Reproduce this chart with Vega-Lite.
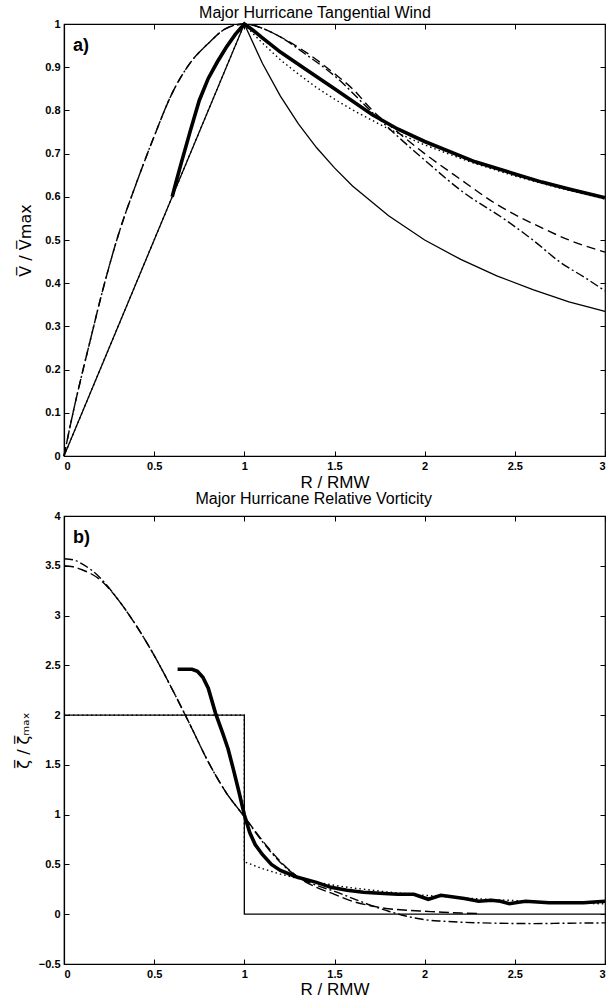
{
  "$schema": "https://vega.github.io/schema/vega-lite/v6.json",
  "background": "white",
  "padding": {"left": 14, "top": 4, "right": 3, "bottom": 0},
  "spacing": -1,
  "config": {
    "view": {"stroke": "black", "strokeWidth": 1.2},
    "font": "Liberation Sans",
    "axis": {"grid": false, "domainColor": "black", "domainWidth": 1.2, "tickColor": "black", "labelColor": "#000000", "titleColor": "#000000", "labelFont": "Liberation Sans", "labelFontWeight": "bold", "labelFontSize": 11, "tickSize": -5, "labelPadding": 9, "titleFont": "Liberation Sans", "titleFontWeight": "normal", "titleFontSize": 17, "minExtent": 0},
    "title": {"font": "Liberation Sans", "fontSize": 16, "fontWeight": "normal", "color": "black", "frame": "bounds"}
  },
  "datasets": {
    "wind": [
      {"s": "thin", "i": 0, "r": 0, "v": 0}, {"s": "thin", "i": 1, "r": 1, "v": 1}, {"s": "thin", "i": 2, "r": 1.1, "v": 0.909}, {"s": "thin", "i": 3, "r": 1.2, "v": 0.833}, {"s": "thin", "i": 4, "r": 1.3, "v": 0.769}, {"s": "thin", "i": 5, "r": 1.4, "v": 0.714}, {"s": "thin", "i": 6, "r": 1.5, "v": 0.667}, {"s": "thin", "i": 7, "r": 1.6, "v": 0.625}, {"s": "thin", "i": 8, "r": 1.8, "v": 0.556}, {"s": "thin", "i": 9, "r": 2.0, "v": 0.5}, {"s": "thin", "i": 10, "r": 2.2, "v": 0.455}, {"s": "thin", "i": 11, "r": 2.4, "v": 0.417}, {"s": "thin", "i": 12, "r": 2.6, "v": 0.385}, {"s": "thin", "i": 13, "r": 2.8, "v": 0.357}, {"s": "thin", "i": 14, "r": 3.0, "v": 0.335},
      {"s": "thick", "i": 0, "r": 0.6, "v": 0.6}, {"s": "thick", "i": 1, "r": 0.62, "v": 0.632}, {"s": "thick", "i": 2, "r": 0.65, "v": 0.678}, {"s": "thick", "i": 3, "r": 0.7, "v": 0.752}, {"s": "thick", "i": 4, "r": 0.75, "v": 0.823}, {"s": "thick", "i": 5, "r": 0.8, "v": 0.874}, {"s": "thick", "i": 6, "r": 0.85, "v": 0.912}, {"s": "thick", "i": 7, "r": 0.9, "v": 0.946}, {"s": "thick", "i": 8, "r": 0.95, "v": 0.976}, {"s": "thick", "i": 9, "r": 1.0, "v": 1.0}, {"s": "thick", "i": 10, "r": 1.05, "v": 0.985}, {"s": "thick", "i": 11, "r": 1.1, "v": 0.968}, {"s": "thick", "i": 12, "r": 1.2, "v": 0.935}, {"s": "thick", "i": 13, "r": 1.34, "v": 0.895}, {"s": "thick", "i": 14, "r": 1.5, "v": 0.85}, {"s": "thick", "i": 15, "r": 1.71, "v": 0.79}, {"s": "thick", "i": 16, "r": 1.85, "v": 0.757}, {"s": "thick", "i": 17, "r": 2.0, "v": 0.728}, {"s": "thick", "i": 18, "r": 2.28, "v": 0.681}, {"s": "thick", "i": 19, "r": 2.5, "v": 0.653}, {"s": "thick", "i": 20, "r": 2.65, "v": 0.634}, {"s": "thick", "i": 21, "r": 2.8, "v": 0.618}, {"s": "thick", "i": 22, "r": 3.0, "v": 0.598},
      {"s": "dotted", "i": 0, "r": 0, "v": 0}, {"s": "dotted", "i": 1, "r": 1, "v": 1}, {"s": "dotted", "i": 2, "r": 1.05, "v": 0.977}, {"s": "dotted", "i": 3, "r": 1.1, "v": 0.956}, {"s": "dotted", "i": 4, "r": 1.2, "v": 0.917}, {"s": "dotted", "i": 5, "r": 1.3, "v": 0.884}, {"s": "dotted", "i": 6, "r": 1.4, "v": 0.853}, {"s": "dotted", "i": 7, "r": 1.5, "v": 0.826}, {"s": "dotted", "i": 8, "r": 1.6, "v": 0.801}, {"s": "dotted", "i": 9, "r": 1.8, "v": 0.757}, {"s": "dotted", "i": 10, "r": 2.0, "v": 0.72}, {"s": "dotted", "i": 11, "r": 2.25, "v": 0.681}, {"s": "dotted", "i": 12, "r": 2.5, "v": 0.648}, {"s": "dotted", "i": 13, "r": 2.75, "v": 0.62}, {"s": "dotted", "i": 14, "r": 3.0, "v": 0.595},
      {"s": "dashed", "i": 0, "r": 0, "v": 0}, {"s": "dashed", "i": 1, "r": 0.05, "v": 0.1}, {"s": "dashed", "i": 2, "r": 0.1, "v": 0.19}, {"s": "dashed", "i": 3, "r": 0.15, "v": 0.275}, {"s": "dashed", "i": 4, "r": 0.2, "v": 0.36}, {"s": "dashed", "i": 5, "r": 0.3, "v": 0.51}, {"s": "dashed", "i": 6, "r": 0.4, "v": 0.63}, {"s": "dashed", "i": 7, "r": 0.5, "v": 0.74}, {"s": "dashed", "i": 8, "r": 0.6, "v": 0.84}, {"s": "dashed", "i": 9, "r": 0.7, "v": 0.91}, {"s": "dashed", "i": 10, "r": 0.8, "v": 0.955}, {"s": "dashed", "i": 11, "r": 0.9, "v": 0.99}, {"s": "dashed", "i": 12, "r": 1.0, "v": 1.0}, {"s": "dashed", "i": 13, "r": 1.1, "v": 0.99}, {"s": "dashed", "i": 14, "r": 1.2, "v": 0.97}, {"s": "dashed", "i": 15, "r": 1.34, "v": 0.935}, {"s": "dashed", "i": 16, "r": 1.5, "v": 0.885}, {"s": "dashed", "i": 17, "r": 1.6, "v": 0.85}, {"s": "dashed", "i": 18, "r": 1.71, "v": 0.8}, {"s": "dashed", "i": 19, "r": 1.85, "v": 0.75}, {"s": "dashed", "i": 20, "r": 2.0, "v": 0.7}, {"s": "dashed", "i": 21, "r": 2.2, "v": 0.64}, {"s": "dashed", "i": 22, "r": 2.39, "v": 0.585}, {"s": "dashed", "i": 23, "r": 2.65, "v": 0.528}, {"s": "dashed", "i": 24, "r": 2.8, "v": 0.5}, {"s": "dashed", "i": 25, "r": 3.0, "v": 0.472},
      {"s": "dashdot", "i": 0, "r": 0, "v": 0}, {"s": "dashdot", "i": 1, "r": 0.05, "v": 0.1}, {"s": "dashdot", "i": 2, "r": 0.1, "v": 0.19}, {"s": "dashdot", "i": 3, "r": 0.15, "v": 0.275}, {"s": "dashdot", "i": 4, "r": 0.2, "v": 0.36}, {"s": "dashdot", "i": 5, "r": 0.3, "v": 0.51}, {"s": "dashdot", "i": 6, "r": 0.4, "v": 0.63}, {"s": "dashdot", "i": 7, "r": 0.5, "v": 0.74}, {"s": "dashdot", "i": 8, "r": 0.6, "v": 0.84}, {"s": "dashdot", "i": 9, "r": 0.7, "v": 0.91}, {"s": "dashdot", "i": 10, "r": 0.8, "v": 0.955}, {"s": "dashdot", "i": 11, "r": 0.9, "v": 0.99}, {"s": "dashdot", "i": 12, "r": 1.0, "v": 1.0}, {"s": "dashdot", "i": 13, "r": 1.1, "v": 0.99}, {"s": "dashdot", "i": 14, "r": 1.2, "v": 0.97}, {"s": "dashdot", "i": 15, "r": 1.34, "v": 0.93}, {"s": "dashdot", "i": 16, "r": 1.5, "v": 0.88}, {"s": "dashdot", "i": 17, "r": 1.71, "v": 0.795}, {"s": "dashdot", "i": 18, "r": 1.85, "v": 0.74}, {"s": "dashdot", "i": 19, "r": 2.0, "v": 0.685}, {"s": "dashdot", "i": 20, "r": 2.2, "v": 0.615}, {"s": "dashdot", "i": 21, "r": 2.46, "v": 0.543}, {"s": "dashdot", "i": 22, "r": 2.6, "v": 0.5}, {"s": "dashdot", "i": 23, "r": 2.75, "v": 0.449}, {"s": "dashdot", "i": 24, "r": 2.9, "v": 0.41}, {"s": "dashdot", "i": 25, "r": 3.0, "v": 0.382}
    ],
    "vort": [
      {"s": "thin", "i": 0, "r": 0, "z": 2}, {"s": "thin", "i": 1, "r": 1.0, "z": 2}, {"s": "thin", "i": 2, "r": 1.0, "z": 0}, {"s": "thin", "i": 3, "r": 3.0, "z": 0},
      {"s": "dotted", "i": 0, "r": 0, "z": 2}, {"s": "dotted", "i": 1, "r": 1.0, "z": 2}, {"s": "dotted", "i": 2, "r": 1.0, "z": 0.527}, {"s": "dotted", "i": 3, "r": 1.1, "z": 0.458}, {"s": "dotted", "i": 4, "r": 1.2, "z": 0.403}, {"s": "dotted", "i": 5, "r": 1.3, "z": 0.358}, {"s": "dotted", "i": 6, "r": 1.4, "z": 0.321}, {"s": "dotted", "i": 7, "r": 1.5, "z": 0.29}, {"s": "dotted", "i": 8, "r": 1.6, "z": 0.264}, {"s": "dotted", "i": 9, "r": 1.8, "z": 0.222}, {"s": "dotted", "i": 10, "r": 2.0, "z": 0.19}, {"s": "dotted", "i": 11, "r": 2.2, "z": 0.165}, {"s": "dotted", "i": 12, "r": 2.4, "z": 0.145}, {"s": "dotted", "i": 13, "r": 2.6, "z": 0.129}, {"s": "dotted", "i": 14, "r": 2.8, "z": 0.115}, {"s": "dotted", "i": 15, "r": 3.0, "z": 0.104},
      {"s": "dashed", "i": 0, "r": 0, "z": 3.5}, {"s": "dashed", "i": 1, "r": 0.05, "z": 3.49}, {"s": "dashed", "i": 2, "r": 0.1, "z": 3.46}, {"s": "dashed", "i": 3, "r": 0.15, "z": 3.42}, {"s": "dashed", "i": 4, "r": 0.2, "z": 3.36}, {"s": "dashed", "i": 5, "r": 0.3, "z": 3.16}, {"s": "dashed", "i": 6, "r": 0.4, "z": 2.9}, {"s": "dashed", "i": 7, "r": 0.5, "z": 2.6}, {"s": "dashed", "i": 8, "r": 0.6, "z": 2.26}, {"s": "dashed", "i": 9, "r": 0.7, "z": 1.9}, {"s": "dashed", "i": 10, "r": 0.8, "z": 1.53}, {"s": "dashed", "i": 11, "r": 0.9, "z": 1.22}, {"s": "dashed", "i": 12, "r": 1.0, "z": 0.98}, {"s": "dashed", "i": 13, "r": 1.1, "z": 0.74}, {"s": "dashed", "i": 14, "r": 1.2, "z": 0.53}, {"s": "dashed", "i": 15, "r": 1.3, "z": 0.37}, {"s": "dashed", "i": 16, "r": 1.4, "z": 0.27}, {"s": "dashed", "i": 17, "r": 1.5, "z": 0.2}, {"s": "dashed", "i": 18, "r": 1.6, "z": 0.13}, {"s": "dashed", "i": 19, "r": 1.7, "z": 0.085}, {"s": "dashed", "i": 20, "r": 1.8, "z": 0.055}, {"s": "dashed", "i": 21, "r": 1.9, "z": 0.04}, {"s": "dashed", "i": 22, "r": 2.0, "z": 0.03}, {"s": "dashed", "i": 23, "r": 2.1, "z": 0.02}, {"s": "dashed", "i": 24, "r": 2.2, "z": 0.012}, {"s": "dashed", "i": 25, "r": 2.3, "z": 0.008},
      {"s": "dashdot", "i": 0, "r": 0, "z": 3.57}, {"s": "dashdot", "i": 1, "r": 0.05, "z": 3.56}, {"s": "dashdot", "i": 2, "r": 0.1, "z": 3.52}, {"s": "dashdot", "i": 3, "r": 0.15, "z": 3.46}, {"s": "dashdot", "i": 4, "r": 0.2, "z": 3.38}, {"s": "dashdot", "i": 5, "r": 0.3, "z": 3.16}, {"s": "dashdot", "i": 6, "r": 0.4, "z": 2.9}, {"s": "dashdot", "i": 7, "r": 0.5, "z": 2.6}, {"s": "dashdot", "i": 8, "r": 0.6, "z": 2.26}, {"s": "dashdot", "i": 9, "r": 0.7, "z": 1.9}, {"s": "dashdot", "i": 10, "r": 0.8, "z": 1.53}, {"s": "dashdot", "i": 11, "r": 0.9, "z": 1.22}, {"s": "dashdot", "i": 12, "r": 1.0, "z": 0.98}, {"s": "dashdot", "i": 13, "r": 1.1, "z": 0.73}, {"s": "dashdot", "i": 14, "r": 1.2, "z": 0.52}, {"s": "dashdot", "i": 15, "r": 1.3, "z": 0.37}, {"s": "dashdot", "i": 16, "r": 1.4, "z": 0.29}, {"s": "dashdot", "i": 17, "r": 1.5, "z": 0.23}, {"s": "dashdot", "i": 18, "r": 1.6, "z": 0.16}, {"s": "dashdot", "i": 19, "r": 1.7, "z": 0.09}, {"s": "dashdot", "i": 20, "r": 1.8, "z": 0.03}, {"s": "dashdot", "i": 21, "r": 1.9, "z": -0.02}, {"s": "dashdot", "i": 22, "r": 2.0, "z": -0.055}, {"s": "dashdot", "i": 23, "r": 2.1, "z": -0.07}, {"s": "dashdot", "i": 24, "r": 2.2, "z": -0.08}, {"s": "dashdot", "i": 25, "r": 2.4, "z": -0.09}, {"s": "dashdot", "i": 26, "r": 2.6, "z": -0.094}, {"s": "dashdot", "i": 27, "r": 2.8, "z": -0.09}, {"s": "dashdot", "i": 28, "r": 3.0, "z": -0.087},
      {"s": "thick", "i": 0, "r": 0.63, "z": 2.46}, {"s": "thick", "i": 1, "r": 0.71, "z": 2.46}, {"s": "thick", "i": 2, "r": 0.74, "z": 2.44}, {"s": "thick", "i": 3, "r": 0.77, "z": 2.38}, {"s": "thick", "i": 4, "r": 0.8, "z": 2.27}, {"s": "thick", "i": 5, "r": 0.84, "z": 2.02}, {"s": "thick", "i": 6, "r": 0.88, "z": 1.82}, {"s": "thick", "i": 7, "r": 0.91, "z": 1.66}, {"s": "thick", "i": 8, "r": 0.94, "z": 1.45}, {"s": "thick", "i": 9, "r": 0.97, "z": 1.23}, {"s": "thick", "i": 10, "r": 1.0, "z": 1.0}, {"s": "thick", "i": 11, "r": 1.03, "z": 0.82}, {"s": "thick", "i": 12, "r": 1.06, "z": 0.7}, {"s": "thick", "i": 13, "r": 1.1, "z": 0.6}, {"s": "thick", "i": 14, "r": 1.15, "z": 0.5}, {"s": "thick", "i": 15, "r": 1.2, "z": 0.44}, {"s": "thick", "i": 16, "r": 1.29, "z": 0.374}, {"s": "thick", "i": 17, "r": 1.4, "z": 0.32}, {"s": "thick", "i": 18, "r": 1.48, "z": 0.27}, {"s": "thick", "i": 19, "r": 1.57, "z": 0.24}, {"s": "thick", "i": 20, "r": 1.66, "z": 0.22}, {"s": "thick", "i": 21, "r": 1.75, "z": 0.21}, {"s": "thick", "i": 22, "r": 1.85, "z": 0.2}, {"s": "thick", "i": 23, "r": 1.94, "z": 0.2}, {"s": "thick", "i": 24, "r": 2.02, "z": 0.15}, {"s": "thick", "i": 25, "r": 2.09, "z": 0.19}, {"s": "thick", "i": 26, "r": 2.15, "z": 0.175}, {"s": "thick", "i": 27, "r": 2.22, "z": 0.157}, {"s": "thick", "i": 28, "r": 2.3, "z": 0.13}, {"s": "thick", "i": 29, "r": 2.37, "z": 0.14}, {"s": "thick", "i": 30, "r": 2.42, "z": 0.13}, {"s": "thick", "i": 31, "r": 2.47, "z": 0.105}, {"s": "thick", "i": 32, "r": 2.52, "z": 0.12}, {"s": "thick", "i": 33, "r": 2.56, "z": 0.13}, {"s": "thick", "i": 34, "r": 2.69, "z": 0.115}, {"s": "thick", "i": 35, "r": 2.88, "z": 0.115}, {"s": "thick", "i": 36, "r": 3.0, "z": 0.13}
    ]
  },
  "vconcat": [
    {
      "title": {"text": "Major Hurricane Tangential Wind", "offset": -4},
      "width": 541,
      "height": 432,
      "data": {"name": "wind"},
      "layer": [
        {
          "encoding": {
            "x": {"field": "r", "type": "quantitative", "scale": {"domain": [0, 3], "nice": false, "zero": false}, "axis": {"values": [0, 0.5, 1, 1.5, 2, 2.5, 3], "format": "~g", "title": "R / RMW", "titlePadding": 3}},
            "y": {"field": "v", "type": "quantitative", "scale": {"domain": [0, 1], "nice": false}, "axis": {"values": [0, 0.1, 0.2, 0.3, 0.4, 0.5, 0.6, 0.7, 0.8, 0.9, 1], "format": "~g", "title": "V̅ / V̅max", "titleFont": "DejaVu Sans", "titleFontSize": 16, "titlePadding": 11}},
            "order": {"field": "i", "type": "quantitative"}
          },
          "layer": [
            {"transform": [{"filter": "datum.s == 'thin'"}], "mark": {"type": "line", "color": "black", "strokeWidth": 1.3}},
            {"transform": [{"filter": "datum.s == 'dotted'"}], "mark": {"type": "line", "color": "black", "strokeWidth": 1.4, "strokeDash": [1.5, 3]}},
            {"transform": [{"filter": "datum.s == 'dashed'"}], "mark": {"type": "line", "color": "black", "strokeWidth": 1.4, "strokeDash": [9, 5], "interpolate": "monotone"}},
            {"transform": [{"filter": "datum.s == 'dashdot'"}], "mark": {"type": "line", "color": "black", "strokeWidth": 1.4, "strokeDash": [9, 3, 2, 3], "interpolate": "monotone"}},
            {"transform": [{"filter": "datum.s == 'thick'"}], "mark": {"type": "line", "color": "black", "strokeWidth": 3.6}},
            {"data": {"values": [{"r": 0.05, "v": 0.948, "t": "a)"}]}, "mark": {"type": "text", "align": "left", "baseline": "middle", "fontSize": 18, "fontWeight": "bold", "font": "Liberation Sans", "color": "black"}, "encoding": {"text": {"field": "t"}}}
          ]
        },
        {
          "mark": {"type": "point", "opacity": 0},
          "encoding": {
            "x": {"field": "r", "type": "quantitative", "scale": {"domain": [0, 3], "nice": false, "zero": false}, "axis": {"orient": "top", "values": [0, 0.5, 1, 1.5, 2, 2.5, 3], "labels": false, "title": null, "labelPadding": 0, "domain": false}},
            "y": {"field": "v", "type": "quantitative", "scale": {"domain": [0, 1], "nice": false}, "axis": {"orient": "right", "values": [0, 0.1, 0.2, 0.3, 0.4, 0.5, 0.6, 0.7, 0.8, 0.9, 1], "labels": false, "title": null, "labelPadding": 0, "domain": false}}
          }
        }
      ],
      "resolve": {"scale": {"x": "independent", "y": "independent"}}
    },
    {
      "title": {"text": "Major Hurricane Relative Vorticity", "offset": 3},
      "width": 541,
      "height": 448,
      "data": {"name": "vort"},
      "layer": [
        {
          "encoding": {
            "x": {"field": "r", "type": "quantitative", "scale": {"domain": [0, 3], "nice": false, "zero": false}, "axis": {"values": [0, 0.5, 1, 1.5, 2, 2.5, 3], "format": "~g", "title": "R / RMW", "titlePadding": 2}},
            "y": {"field": "z", "type": "quantitative", "scale": {"domain": [-0.5, 4], "nice": false, "zero": false}, "axis": {"values": [-0.5, 0, 0.5, 1, 1.5, 2, 2.5, 3, 3.5, 4], "format": "~g", "title": "ζ̅ / ζ̅ₘₐₓ", "titleFont": "DejaVu Sans", "titleFontSize": 16, "titlePadding": 7}},
            "order": {"field": "i", "type": "quantitative"}
          },
          "layer": [
            {"transform": [{"filter": "datum.s == 'thin'"}], "mark": {"type": "line", "color": "black", "strokeWidth": 1.3}},
            {"transform": [{"filter": "datum.s == 'dotted'"}], "mark": {"type": "line", "color": "black", "strokeWidth": 1.4, "strokeDash": [1.5, 3]}},
            {"transform": [{"filter": "datum.s == 'dashed'"}], "mark": {"type": "line", "color": "black", "strokeWidth": 1.4, "strokeDash": [10, 4], "interpolate": "monotone"}},
            {"transform": [{"filter": "datum.s == 'dashdot'"}], "mark": {"type": "line", "color": "black", "strokeWidth": 1.4, "strokeDash": [9, 3, 2, 3], "interpolate": "monotone"}},
            {"transform": [{"filter": "datum.s == 'thick'"}], "mark": {"type": "line", "color": "black", "strokeWidth": 3.6}},
            {"data": {"values": [{"r": 0.05, "z": 3.78, "t": "b)"}]}, "mark": {"type": "text", "align": "left", "baseline": "middle", "fontSize": 18, "fontWeight": "bold", "font": "Liberation Sans", "color": "black"}, "encoding": {"text": {"field": "t"}}}
          ]
        },
        {
          "mark": {"type": "point", "opacity": 0},
          "encoding": {
            "x": {"field": "r", "type": "quantitative", "scale": {"domain": [0, 3], "nice": false, "zero": false}, "axis": {"orient": "top", "values": [0, 0.5, 1, 1.5, 2, 2.5, 3], "labels": false, "title": null, "labelPadding": 0, "domain": false}},
            "y": {"field": "z", "type": "quantitative", "scale": {"domain": [-0.5, 4], "nice": false, "zero": false}, "axis": {"orient": "right", "values": [-0.5, 0, 0.5, 1, 1.5, 2, 2.5, 3, 3.5, 4], "labels": false, "title": null, "labelPadding": 0, "domain": false}}
          }
        }
      ],
      "resolve": {"scale": {"x": "independent", "y": "independent"}}
    }
  ]
}
